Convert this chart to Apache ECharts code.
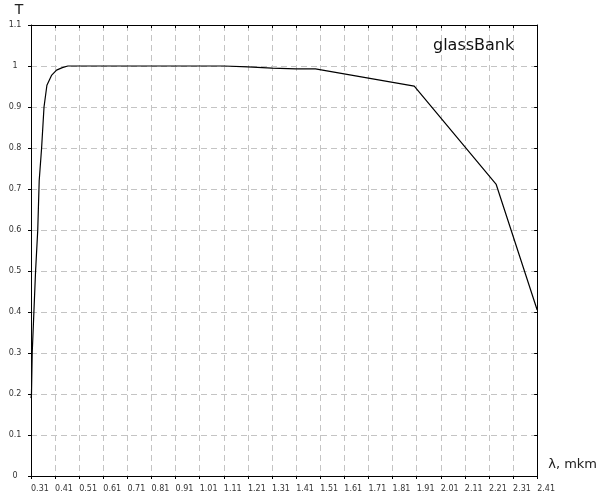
<!DOCTYPE html>
<html>
<head>
<meta charset="utf-8">
<script src="https://cdn.jsdelivr.net/npm/echarts@6/dist/echarts.min.js"></script>
<style>html,body{margin:0;padding:0;background:#fff;}#chart{width:600px;height:500px;}</style>
</head>
<body>
<div id="chart"></div>
<script>
// Wavelength (λ, mkm) and transmittance T
var lambda = [0.31, 0.312, 0.315, 0.322, 0.329, 0.338, 0.344, 0.354, 0.364, 0.376, 0.395, 0.416, 0.44, 0.463, 0.5, 1.11, 1.21, 1.31, 1.41, 1.49, 1.90, 2.24, 2.41];
var transmit = [0.19, 0.2, 0.3, 0.4, 0.5, 0.6, 0.72, 0.8, 0.9, 0.953, 0.977, 0.99, 0.996, 1.0, 1.0, 1.0, 0.998, 0.995, 0.993, 0.993, 0.951, 0.711, 0.405];
var lambdaStart = 0.31;   // first x tick label
var lambdaEnd = 2.41;     // last x tick label
var xStep = 0.1;
var yMax = 1.1;
var yStep = 0.1;
var chartTitle = 'glassBank';
var xName = 'λ, mkm';
var yName = 'T';

var seriesData = lambda.map(function (l, i) { return [l - lambdaStart, transmit[i]]; });
var font = 'DejaVu Sans';

var chart = echarts.init(document.getElementById('chart'), null, {renderer: 'canvas'});
var xBase = {
  type: 'value', min: 0, max: +(lambdaEnd - lambdaStart).toFixed(2), interval: xStep,
  axisLine: {show: true, onZero: false, lineStyle: {color: '#000', width: 1}},
  axisTick: {show: true, length: 3, lineStyle: {color: '#000'}}
};
var yBase = {
  type: 'value', min: 0, max: yMax, interval: yStep,
  axisLine: {show: true, onZero: false, lineStyle: {color: '#000', width: 1}},
  axisTick: {show: true, length: 3, lineStyle: {color: '#000'}}
};
chart.setOption({
  animation: false,
  title: {
    text: chartTitle, left: 428, top: 33,
    textStyle: {fontFamily: font, fontSize: 16, fontWeight: 'normal', color: '#111'}
  },
  grid: {left: 31, right: 60, top: 25, bottom: 24, containLabel: false},
  xAxis: [
    Object.assign({}, xBase, {
      name: xName, nameLocation: 'end', nameGap: 11,
      nameTextStyle: {fontFamily: font, fontSize: 13, color: '#222', align: 'left', verticalAlign: 'bottom', padding: [0, 0, 5, 0]},
      axisLabel: {
        show: true, align: 'left', margin: 9, fontFamily: font, fontSize: 8, color: '#333',
        formatter: function (v) { return (v + lambdaStart).toFixed(2); }
      },
      splitLine: {show: true, lineStyle: {color: '#c4c4c4', type: [6, 4], width: 1}}
    }),
    Object.assign({}, xBase, {
      axisTick: {show: true, inside: true, length: 3, lineStyle: {color: '#000'}},
      axisLabel: {show: false}, splitLine: {show: false}
    })
  ],
  yAxis: [
    Object.assign({}, yBase, {
      name: yName, nameLocation: 'end', nameGap: 8,
      nameTextStyle: {fontFamily: font, fontSize: 14, color: '#222', align: 'center', padding: [0, 24, 0, 0]},
      axisLabel: {
        show: true, align: 'center', margin: 16, fontFamily: font, fontSize: 8, color: '#333',
        padding: [0, 0, 5, 0],
        formatter: function (v) { return String(+v.toFixed(1)); }
      },
      splitLine: {show: true, lineStyle: {color: '#c4c4c4', type: [6, 4], width: 1}}
    }),
    Object.assign({}, yBase, {
      axisTick: {show: true, inside: true, length: 3, lineStyle: {color: '#000'}},
      axisLabel: {show: false}, splitLine: {show: false}
    })
  ],
  series: [{
    type: 'line', data: seriesData, showSymbol: false, smooth: false,
    xAxisIndex: 0, yAxisIndex: 0,
    lineStyle: {color: '#000', width: 1.2}
  }]
});
</script>
</body>
</html>
